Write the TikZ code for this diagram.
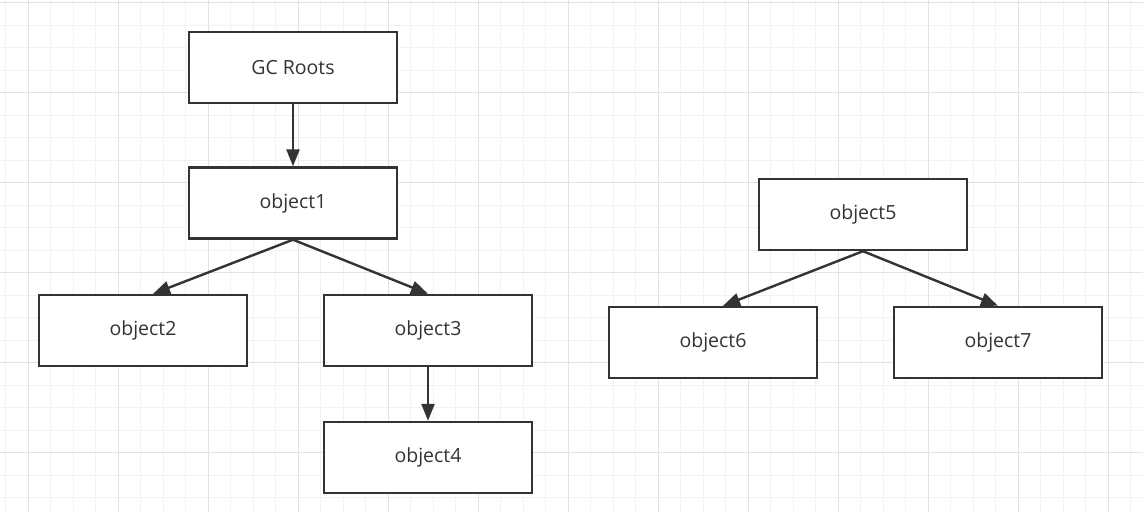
\documentclass[tikz,border=0pt]{standalone}
\usepackage{fontspec}
\setmainfont{Open Sans}
\usetikzlibrary{arrows.meta}
\definecolor{cline}{RGB}{51,51,51}
\definecolor{gminor}{RGB}{242,242,242}
\definecolor{gmajor}{RGB}{226,226,226}
\tikzset{
  obj/.style={draw=cline,line width=2.4pt,fill=white,minimum width=208pt,minimum height=71pt,
    inner sep=0pt,font=\fontsize{19.5}{22}\selectfont,text=cline},
  ref/.style={draw=cline,line width=2.4pt,-{Triangle[length=17pt,width=13pt]}}
}

\begin{document}
\begin{tikzpicture}[x=1pt,y=-1pt]
    \useasboundingbox (0,0) rectangle (1143,512);
    \fill[white] (0,0) rectangle (1143,512);
    % background grid
    \foreach \i in {0,...,50} \draw[gminor,line width=1pt] ({5.5+22.5*\i},0) -- ({5.5+22.5*\i},512);
    \foreach \j in {0,...,22} \draw[gminor,line width=1pt] (0,{2.7+22.5*\j}) -- (1143,{2.7+22.5*\j});
    \foreach \i in {0,...,12} \draw[gmajor,line width=1pt] ({28+90*\i},0) -- ({28+90*\i},512);
    \foreach \j in {0,...,5} \draw[gmajor,line width=1pt] (0,{2.7+90*\j}) -- (1143,{2.7+90*\j});
    % reachable objects
    \node[obj] (roots) at (293,67.5) {GC Roots};
    \node[obj] (obj1) at (293,203) {object1};
    \node[obj] (obj2) at (143,330.5) {object2};
    \node[obj] (obj3) at (428,330.5) {object3};
    \node[obj] (obj4) at (428,457.5) {object4};
    % unreachable objects
    \node[obj] (obj5) at (863,214.5) {object5};
    \node[obj] (obj6) at (713,342.5) {object6};
    \node[obj] (obj7) at (998,342.5) {object7};
    \draw[ref] (roots) -- (obj1);
    \draw[ref] (obj1.south) -- ([xshift=10pt]obj2.north);
    \draw[ref] (obj1.south) -- (obj3.north);
    \draw[ref] (obj3) -- (obj4);
    \draw[ref] (obj5.south) -- ([xshift=10pt]obj6.north);
    \draw[ref] (obj5.south) -- (obj7.north);
  \end{tikzpicture}
\end{document}
